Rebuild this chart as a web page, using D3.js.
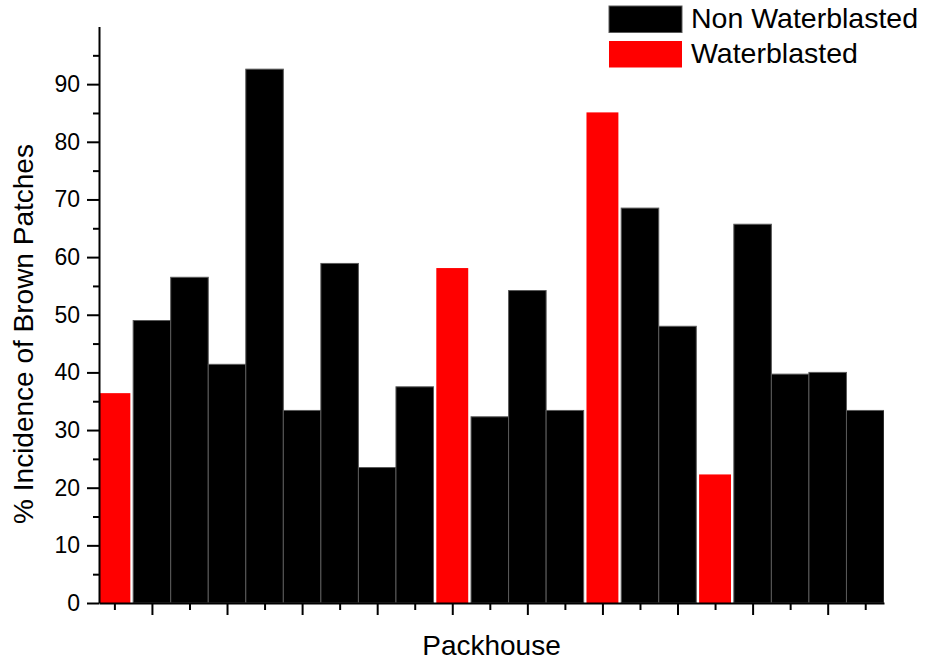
<!DOCTYPE html>
<html>
<head>
<meta charset="utf-8">
<script src="https://cdn.jsdelivr.net/npm/d3@7"></script>
<style>
  body { margin: 0; background: #fff; }
  svg { display: block; font-family: "Liberation Sans", Arial, sans-serif; }
</style>
</head>
<body>
<svg id="chart" width="928" height="661"></svg>
<script>
// Data
const packhouses = d3.range(1, 22);
const incidence = [36.4, 49.0, 56.5, 41.4, 92.6, 33.4, 58.9, 23.5, 37.5, 58.1,
                   32.3, 54.2, 33.4, 85.1, 68.5, 48.0, 22.3, 65.7, 39.7, 40.0, 33.4];
const treatment = ["W", "N", "N", "N", "N", "N", "N", "N", "N", "W",
                   "N", "N", "N", "W", "N", "N", "W", "N", "N", "N", "N"];
const seriesNames = ["Non Waterblasted", "Waterblasted"];
const seriesKeys = ["N", "W"];
const seriesColors = ["#000000", "#ff0000"];
const yTicks = [0, 10, 20, 30, 40, 50, 60, 70, 80, 90];
const xDomain = [0.59, 21.5];
const yDomain = [0, 100];

const svg = d3.select("#chart");
const mLeft = 99, mRight = 884, mTop = 26.5, mBottom = 603;

const x = d3.scaleLinear().domain(xDomain).range([mLeft, mRight]);
const y = d3.scaleLinear().domain(yDomain).range([mBottom, mTop]);
const band = x(2) - x(1);
const color = d3.scaleOrdinal().domain(seriesKeys).range(seriesColors);

svg.append("clipPath").attr("id", "plotclip")
  .append("rect").attr("x", mLeft).attr("y", 0).attr("width", mRight - mLeft).attr("height", mBottom);

const data = packhouses.map((p, i) => ({ p, v: incidence[i], t: treatment[i] }));

const bars = svg.append("g").attr("clip-path", "url(#plotclip)");
bars.selectAll("rect.n").data(data.filter(d => d.t === "N")).join("rect")
  .attr("class", "n")
  .attr("x", d => x(d.p) - band / 2)
  .attr("width", band)
  .attr("y", d => y(d.v))
  .attr("height", d => y(0) - y(d.v))
  .attr("fill", color("N"))
  .attr("stroke", "#5a5a5a")
  .attr("stroke-width", 1);

const rw = band * 0.85;
bars.selectAll("rect.w").data(data.filter(d => d.t === "W")).join("rect")
  .attr("class", "w")
  .attr("x", d => x(d.p) - rw / 2)
  .attr("width", rw)
  .attr("y", d => y(d.v))
  .attr("height", d => y(0) - y(d.v))
  .attr("fill", color("W"));

// Y axis
const yAxis = d3.axisLeft(y).tickValues(yTicks).tickSize(12).tickPadding(7).tickSizeOuter(0);
const gy = svg.append("g").attr("transform", `translate(${mLeft},0)`).call(yAxis);
gy.select(".domain").attr("stroke", "#000").attr("stroke-width", 2);
gy.selectAll(".tick line").attr("stroke", "#000").attr("stroke-width", 2);
gy.selectAll(".tick text").attr("font-size", 23).attr("fill", "#000")
  .attr("font-family", "'Liberation Sans', Arial, sans-serif");
const yMinor = d3.axisLeft(y).tickValues(d3.range(5, 100, 10)).tickSize(6).tickFormat("").tickSizeOuter(0);
const gym = svg.append("g").attr("transform", `translate(${mLeft},0)`).call(yMinor);
gym.select(".domain").remove();
gym.selectAll(".tick line").attr("stroke", "#000").attr("stroke-width", 2);

// X axis
const xMajor = d3.axisBottom(x).tickValues(packhouses.filter(p => p % 2 === 0)).tickSize(12).tickFormat("").tickSizeOuter(0);
const gx = svg.append("g").attr("transform", `translate(0,${mBottom})`).call(xMajor);
gx.select(".domain").attr("stroke", "#000").attr("stroke-width", 2);
gx.selectAll(".tick line").attr("stroke", "#000").attr("stroke-width", 2);
const xMinor = d3.axisBottom(x).tickValues(packhouses.filter(p => p % 2 === 1)).tickSize(7).tickFormat("").tickSizeOuter(0);
const gxm = svg.append("g").attr("transform", `translate(0,${mBottom})`).call(xMinor);
gxm.select(".domain").remove();
gxm.selectAll(".tick line").attr("stroke", "#000").attr("stroke-width", 2);

// Axis titles
svg.append("text")
  .attr("x", (mLeft + mRight) / 2).attr("y", 655)
  .attr("text-anchor", "middle").attr("font-size", 28).attr("fill", "#000")
  .text("Packhouse");
svg.append("text")
  .attr("transform", `translate(33,${334}) rotate(-90)`)
  .attr("text-anchor", "middle").attr("font-size", 28).attr("fill", "#000")
  .text("% Incidence of Brown Patches");

// Legend
const legend = svg.append("g");
seriesNames.forEach((name, i) => {
  const gy0 = 6 + i * 35;
  legend.append("rect")
    .attr("x", 609).attr("y", gy0).attr("width", 73).attr("height", 26.5)
    .attr("fill", seriesColors[i])
    .attr("stroke", i === 0 ? "#5a5a5a" : "none").attr("stroke-width", 1);
  legend.append("text")
    .attr("x", 691).attr("y", gy0 + 22)
    .attr("font-size", 28.5).attr("fill", "#000")
    .text(name);
});
</script>
</body>
</html>
